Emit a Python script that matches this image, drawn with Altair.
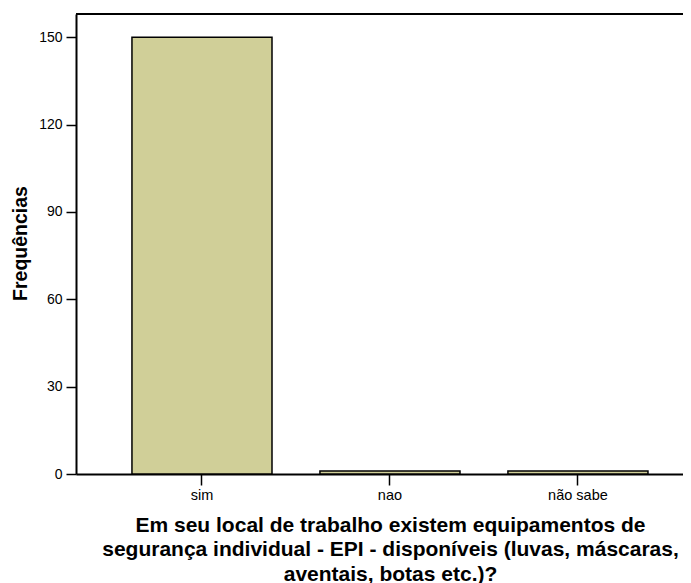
import altair as alt
import pandas as pd

categories = ["sim", "nao", "não sabe"]
frequencies = [150, 1, 1]
y_ticks = [0, 30, 60, 90, 120, 150]
x_title = [
    "Em seu local de trabalho existem equipamentos de",
    "segurança individual - EPI - disponíveis (luvas, máscaras,",
    "aventais, botas etc.)?",
]
y_title = "Frequências"

df = pd.DataFrame({"cat": categories, "freq": frequencies})

W, H = 607, 460
FONT = "Liberation Sans"

bars = alt.Chart(df).mark_bar(
    color="#d0cf98", stroke="black", strokeWidth=1.5
).encode(
    x=alt.X(
        "cat:N",
        sort=categories,
        scale=alt.Scale(paddingInner=0.255, paddingOuter=0.242, align=0.615),
        axis=alt.Axis(
            title=x_title,
            labelAngle=0,
            labelFont=FONT,
            labelFontSize=14.5,
            labelColor="black",
            labelPadding=3,
            tickSize=11,
            tickWidth=1.5,
            tickColor="black",
            domainColor="black",
            domainWidth=2,
            titleFont=FONT,
            titleFontSize=21,
            titleFontWeight="bold",
            titleColor="black",
            titleLineHeight=24.5,
            titleX=314,
            titleY=57,
            titleAlign="center",
            titleBaseline="alphabetic",
        ),
    ),
    y=alt.Y(
        "freq:Q",
        scale=alt.Scale(domain=[0, 158], nice=False),
        axis=alt.Axis(
            title=y_title,
            values=y_ticks,
            grid=False,
            labelFont=FONT,
            labelFontSize=14,
            labelColor="black",
            labelPadding=4,
            tickSize=10,
            tickWidth=1.5,
            tickColor="black",
            domainColor="black",
            domainWidth=2,
            titleFont=FONT,
            titleFontSize=19.5,
            titleFontWeight="bold",
            titleColor="black",
            titleX=-56,
            titleY=229,
            titleAngle=270,
            titleAlign="center",
            titleBaseline="middle",
        ),
    ),
)

top = alt.Chart(df).mark_rule(color="black", strokeWidth=2).encode(
    x=alt.value(0), x2=alt.value(W), y=alt.value(0)
)

chart = alt.layer(top, bars).properties(
    width=W,
    height=H,
    autosize=alt.AutoSizeParams(type="none"),
    padding={"left": 68, "top": 6, "right": 0, "bottom": 110},
).configure_view(stroke=None).configure(background="white")

chart.save("out.html", embed_options={"renderer": "svg", "actions": False})
